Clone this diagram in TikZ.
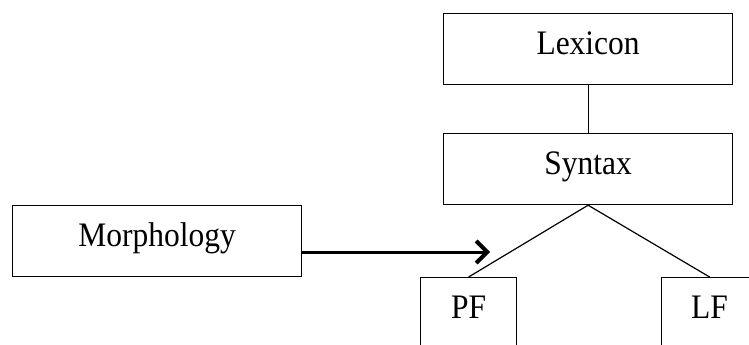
\documentclass[tikz,border=0pt]{standalone}
\usepackage{fontspec}
\usepackage{graphicx}
\setmainfont{Liberation Serif}
\usetikzlibrary{arrows.meta}
% labels are set slightly taller than the font's natural proportions
\newcommand{\tallword}[1]{\scalebox{1}[1.09]{#1}}
\begin{document}
\begin{tikzpicture}[x=1pt,y=-1pt,
  every node/.style={font=\fontsize{31.5}{36}\selectfont},
  stage/.style={draw, line width=1.2pt, inner sep=0pt, minimum width=289pt,
                text height=40.5pt, text depth=30.5pt, anchor=north west},
  level/.style={draw, line width=1.2pt, inner sep=0pt, minimum width=96pt,
                text height=40.5pt, text depth=50pt, anchor=north west},
  link/.style={line width=1.2pt},
  feed/.style={line width=3pt,
               -{Straight Barb[length=11pt,width=22pt,line width=4pt]}}]
\useasboundingbox (0,0) rectangle (749,345);
\begin{scope}
\clip (0,0) rectangle (749,345);
\node[stage] (lex) at (443,13) {\tallword{Lexicon}};
\node[stage] (syn) at (443,133) {\tallword{Syntax}};
\node[stage] (mor) at (12,205) {\tallword{Morphology}};
\node[level] (pf) at (420,277) {\tallword{PF}};
\node[level] (lf) at (661,277) {\tallword{LF}};
\coordinate (feedend) at (490,252);
\draw[link] (lex.south) -- (syn.north);
\draw[link] (syn.south) -- (pf.north);
\draw[link] (syn.south) -- (lf.north);
\draw[feed] (mor.east |- feedend) -- (feedend);
\end{scope}
\end{tikzpicture}
\end{document}
